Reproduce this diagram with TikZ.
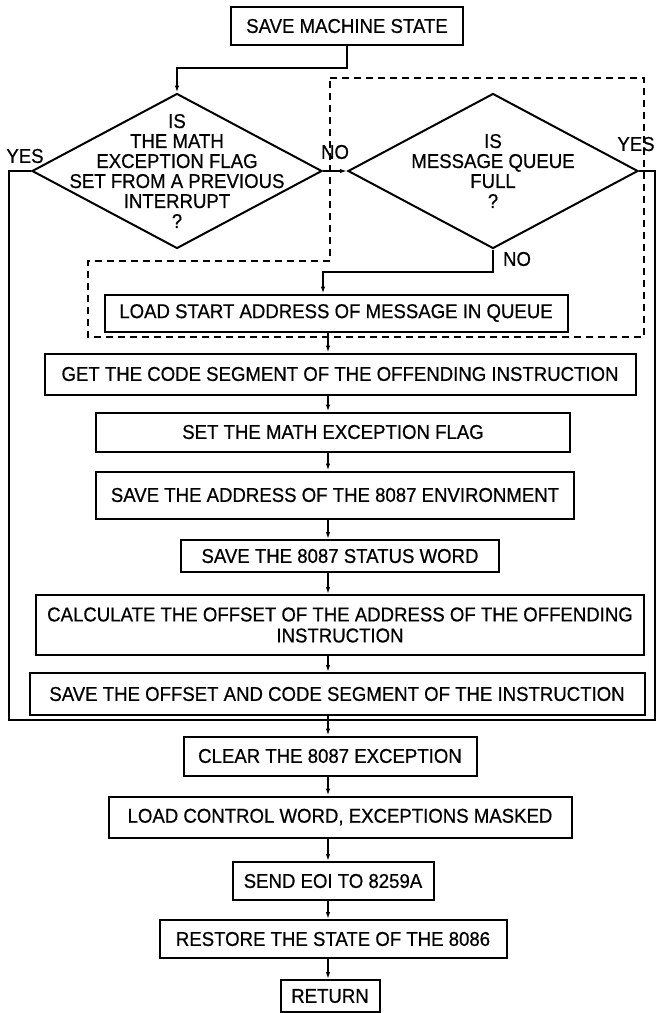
\documentclass[tikz,border=0pt]{standalone}
\usepackage{fontspec}
\setmainfont{Liberation Sans}[FakeStretch=0.93, UprightFeatures={FakeBold=0.6}]
\usetikzlibrary{arrows.meta, shapes.geometric, positioning}

\tikzset{
  procbox/.style={draw, line width=2pt, inner sep=0pt, align=center, font=\fontsize{20}{21}\selectfont},
  decision/.style={draw, diamond, line width=2pt, inner sep=0pt},
  dtext/.style={align=center, inner sep=0pt, font=\fontsize{20}{20}\selectfont},
  tag/.style={inner sep=0pt, font=\fontsize{20}{20}\selectfont},
  flow/.style={line width=1.5pt},
  arr/.style={flow, -{Latex[length=7pt,width=4.5pt]}},
  zone/.style={line width=1.4pt, dash pattern=on 7pt off 5pt},
}

\begin{document}
\begin{tikzpicture}[x=1pt, y=-1pt]
\useasboundingbox (0,0) rectangle (657,1013);
\coordinate (spine) at (328,0);

% entry and the two tests
\node[procbox, minimum width=232pt, minimum height=38pt] (sms) at (347,26) {SAVE MACHINE STATE};
\node[decision, minimum width=290pt, minimum height=155pt,
  label={[dtext]center:{IS\\THE MATH\\EXCEPTION FLAG\\SET FROM A PREVIOUS\\INTERRUPT\\?}}] (d1) at (177,171) {};
\node[decision, minimum width=290pt, minimum height=155pt,
  label={[dtext]center:{IS\\MESSAGE QUEUE\\FULL\\?}}] (d2) at (493,171) {};
\node[tag] (yes1) at (25,156) {YES};
\node[tag] (no1) at (335,152) {NO};
\node[tag] (yes2) at (636,144) {YES};
\node[tag] (no2) at (517,259) {NO};

% process steps
\node[procbox, minimum width=463pt, minimum height=37pt] (loadq) at (336,313) {LOAD START ADDRESS OF MESSAGE IN QUEUE};
\node[procbox, minimum width=591pt, minimum height=41pt] (get) at (340,374) {GET THE CODE SEGMENT OF THE OFFENDING INSTRUCTION};
\node[procbox, minimum width=474pt, minimum height=39pt] (setf) at (333,432) {SET THE MATH EXCEPTION FLAG};
\node[procbox, minimum width=478pt, minimum height=47pt] (saveaddr) at (335,495) {SAVE THE ADDRESS OF THE 8087 ENVIRONMENT};
\node[procbox, minimum width=318pt, minimum height=32pt] (status) at (340,556) {SAVE THE 8087 STATUS WORD};
\node[procbox, minimum width=608pt, minimum height=60pt] (calc) at (340,625) {CALCULATE THE OFFSET OF THE ADDRESS OF THE OFFENDING\\INSTRUCTION};
\node[procbox, minimum width=615pt, minimum height=42pt] (saveoff) at (337,694) {SAVE THE OFFSET AND CODE SEGMENT OF THE INSTRUCTION};
\node[procbox, minimum width=293pt, minimum height=39pt] (clear) at (330,756) {CLEAR THE 8087 EXCEPTION};
\node[procbox, minimum width=463pt, minimum height=41pt] (loadcw) at (340,817) {LOAD CONTROL WORD, EXCEPTIONS MASKED};
\node[procbox, minimum width=201pt, minimum height=38pt] (eoi) at (333,881) {SEND EOI TO 8259A};
\node[procbox, minimum width=347pt, minimum height=38pt] (restore) at (333,939) {RESTORE THE STATE OF THE 8086};
\node[procbox, minimum width=99pt, minimum height=32pt] (ret) at (330,996) {RETURN};

% dashed outline round the queue part
\draw[zone] (330,78) -- (644,78) -- (644,337) -- (88,337) -- (88,261) -- (330,261) -- cycle;

% connectors
\coordinate (bend1) at (177,68);
\coordinate (bend2) at (323,272);
\coordinate (leftrail) at (9,720);
\coordinate (rightrail) at (655,720);
\coordinate (join) at (328,720);
\draw[arr] (sms.south) |- (bend1) -- (d1.north);
\draw[arr] (d1.east) -- (d2.west);
\draw[arr] (d2.south) |- (bend2) -- (bend2 |- loadq.north);
\draw[flow] (d1.west) -| (leftrail) -- (join);
\draw[flow] (d2.east) -| (rightrail) -- (join);
\foreach \a/\b in {loadq/get, get/setf, setf/saveaddr, saveaddr/status, status/calc, calc/saveoff,
                   saveoff/clear, clear/loadcw, loadcw/eoi, eoi/restore, restore/ret}
  \draw[arr] (\a.south -| spine) -- (\b.north -| spine);
\end{tikzpicture}
\end{document}
